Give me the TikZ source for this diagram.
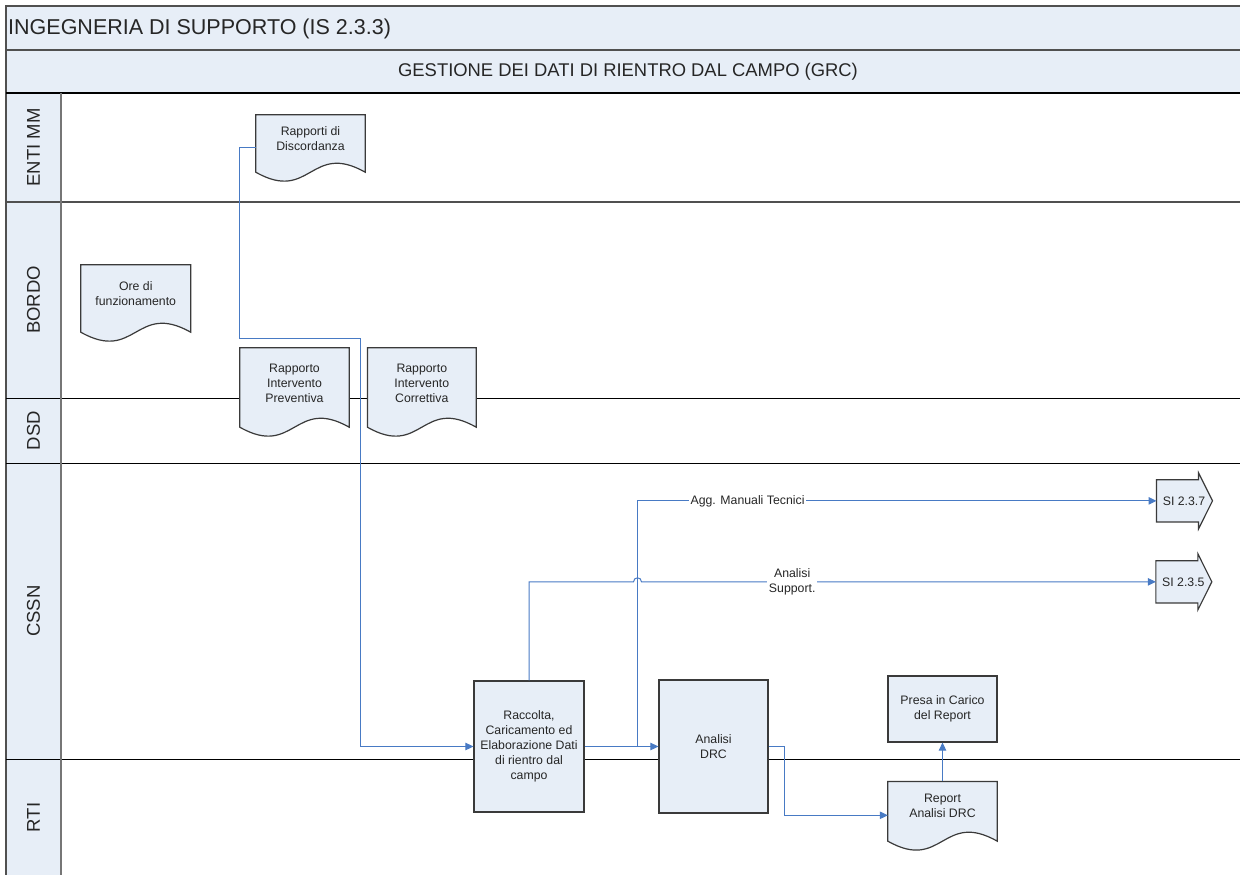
\documentclass[tikz,border=0pt]{standalone}
\usepackage{fontspec}
\setmainfont{Liberation Sans}
\usetikzlibrary{arrows.meta,calc}
\definecolor{bandfill}{RGB}{231,238,247}
\definecolor{boxfill}{RGB}{231,238,247}
\definecolor{boxline}{RGB}{58,58,58}
\definecolor{framec}{RGB}{80,80,80}
\definecolor{colc}{RGB}{118,118,118}
\definecolor{connc}{RGB}{72,122,196}
\definecolor{txtc}{RGB}{38,38,38}
\tikzset{
  txt/.style={text=txtc, font=\fontsize{12.3}{15}\selectfont, align=center, inner sep=0pt},
  shapeline/.style={fill=boxfill, draw=boxline, line width=1.2pt, line join=miter},
  docbody/.style={inner sep=0pt, draw=none},
  procbox/.style={shapeline, txt, inner sep=0pt},
  lanelbl/.style={text=txtc, font=\fontsize{18.5}{20}\selectfont, inner sep=0pt, rotate=90},
  conn/.style={draw=connc, line width=1pt},
  arr/.style={-{Triangle[length=8pt,width=7.5pt]}},
  elabel/.style={txt, fill=white, inner sep=1.5pt},
}
\newcommand{\mydoc}[7]{%
  \node[docbody, minimum width=#4pt, minimum height=#5pt] (#1) at (#2,#3) {};
  \filldraw[shapeline] (#1.south west) -- (#1.north west) -- (#1.north east) -- (#1.south east)
     .. controls ([yshift=31pt]#1.south) and ([yshift=-31pt]#1.south) .. (#1.south west) -- cycle;
  \node[txt] (#1-t) at ([yshift=#7pt]#1.center) {#6};
}
\newcommand{\mysi}[4]{%
  \node[docbody, minimum width=41.6pt, minimum height=41.7pt] (#1) at (#2,#3) {};
  \filldraw[shapeline] (#1.north west) -- (#1.north east) -- ([yshift=7pt]#1.north east)
     -- ([xshift=14pt]#1.east) -- ([yshift=-7pt]#1.south east) -- (#1.south east) -- (#1.south west) -- cycle;
  \node[txt] (#1-t) at ([xshift=6.5pt]#1.center) {#4};
}
\begin{document}
\begin{tikzpicture}[x=1pt,y=-1pt]
\useasboundingbox (0,0) rectangle (1240,875);
\clip (0,0) rectangle (1240,875);
% bands and lane column
\fill[bandfill] (6,6) rectangle (1242,93);
\fill[bandfill] (6,93) rectangle (61,878);
\draw[framec, line width=1.5pt] (1242,6) -- (6,6) -- (6,878);
\draw[framec, line width=1.8pt] (6,50) -- (1242,50);
\draw[black, line width=1pt] (6,93) -- (1242,93);
\draw[framec, line width=1.2pt] (6,202) -- (1242,202);
\draw[black, line width=1pt] (6,398) -- (1242,398);
\draw[black, line width=1pt] (6,463) -- (1242,463);
\draw[black, line width=1pt] (6,759) -- (1242,759);
\draw[colc, line width=1.6pt] (61,93) -- (61,878);
% headings
\node[anchor=base west, text=txtc, font=\fontsize{21.5}{25}\selectfont, inner sep=0pt] (title) at (8,34.5) {INGEGNERIA DI SUPPORTO (IS 2.3.3)};
\node[anchor=base, text=txtc, font=\fontsize{18.4}{22}\selectfont, inner sep=0pt] (sub) at (628,76.7) {GESTIONE DEI DATI DI RIENTRO DAL CAMPO (GRC)};
% lane labels
\node[lanelbl] (lEnti) at (33.5,147.5) {ENTI MM};
\node[lanelbl] (lBordo) at (33.5,300) {BORDO};
\node[lanelbl] (lDsd) at (33.5,430.5) {DSD};
\node[lanelbl] (lCssn) at (33.5,611) {CSSN};
\node[lanelbl] (lRti) at (33.5,817.5) {RTI};
% documents
\mydoc{disc}{310.5}{143.5}{109}{57}{Rapporti di\\Discordanza}{4.5}
\mydoc{ore}{135.75}{298.5}{109.5}{67}{Ore di\\funzionamento}{5}
\mydoc{prev}{294.5}{387.5}{109}{79}{Rapporto\\Intervento\\Preventiva}{4.5}
\mydoc{corr}{421.8}{387.5}{108.4}{79}{Rapporto\\Intervento\\Correttiva}{4.5}
\mydoc{rep}{942.5}{811.3}{109}{59.3}{Report\\Analisi DRC}{5}
% process boxes
\node[procbox, minimum width=110pt, minimum height=131pt] (racc) at (529,746.5) {Raccolta,\\Caricamento ed\\Elaborazione Dati\\di rientro dal\\campo};
\node[procbox, minimum width=109pt, minimum height=133pt] (drc) at (713.5,746.5) {Analisi\\DRC};
\node[procbox, minimum width=109pt, minimum height=66pt] (presa) at (942.5,709) {Presa in Carico\\del Report};
% off-page references
\mysi{si237}{1177.5}{500.85}{SI 2.3.7}
\mysi{si235}{1176.85}{581.85}{SI 2.3.5}
% connectors
\draw[conn, arr] ([yshift=-3.5pt]disc.west) -- ++(-16,0) |- (360,338) |- (racc.west);
\draw[conn, arr] (racc.east) -- (drc.west);
\coordinate (br) at (637.5,746.5);
\draw[conn, arr] (br) |- node[elabel, pos=0.606] (lAgg) {Agg. Manuali Tecnici} (si237.west);
\draw[conn, arr] (racc.north) |- (633.5,581.85) .. controls (633.5,576.5) and (641.5,576.5) .. (641.5,581.85)
   -- node[elabel, pos=0.293] (lAna) {Analisi\\Support.} (si235.west);
\draw[conn, arr] (drc.east) -- ++(16,0) |- ([yshift=-4pt]rep.west);
\draw[conn, arr] (rep.north) -- (presa.south);
\end{tikzpicture}
\end{document}
